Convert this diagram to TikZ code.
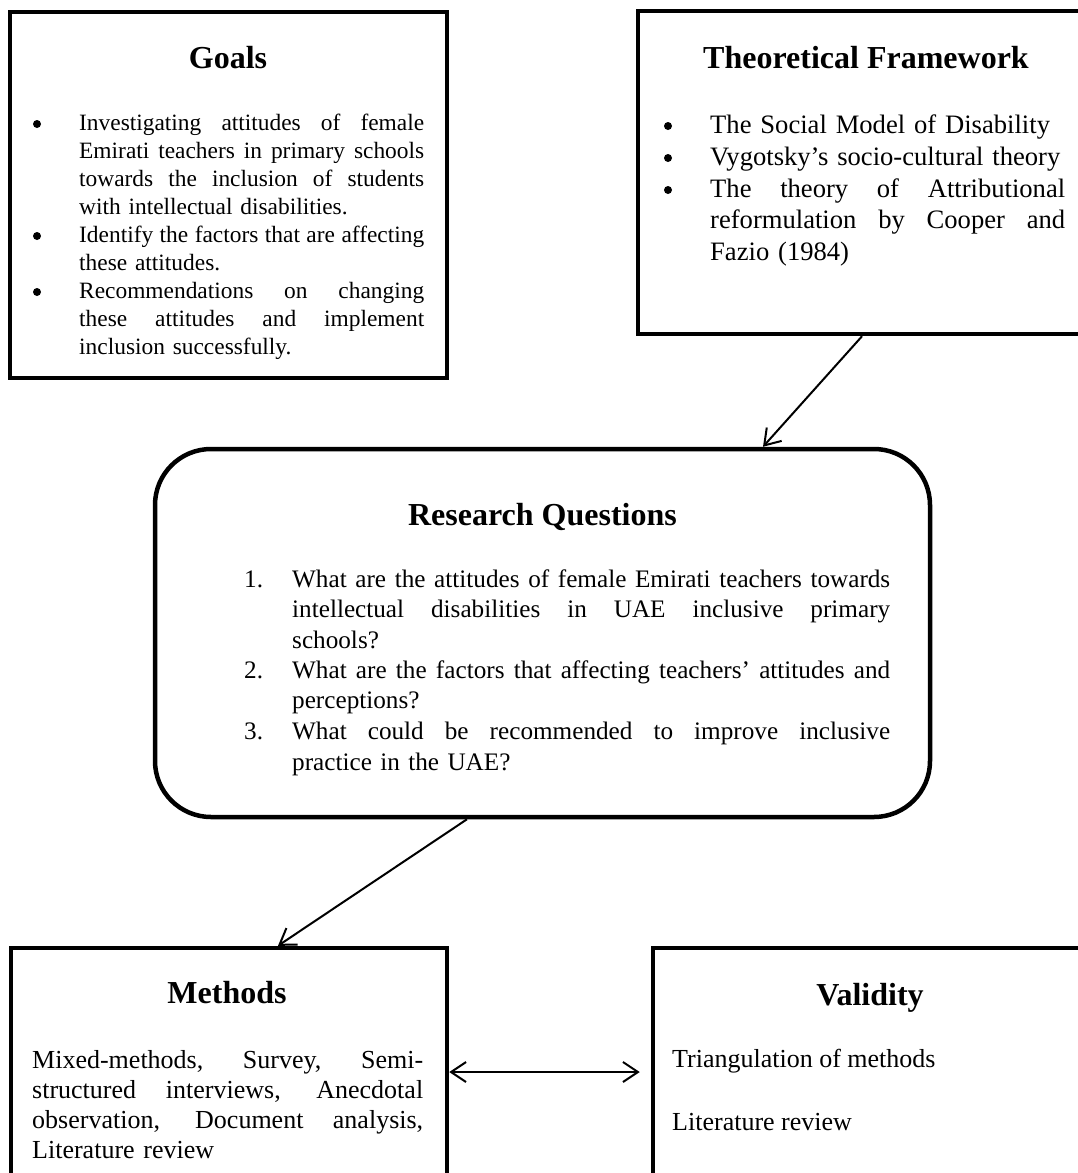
\documentclass[tikz,border=0pt]{standalone}
\usepackage{fontspec}
\setmainfont{Liberation Serif}
\usetikzlibrary{arrows.meta}
\newcommand\jl[2]{\leavevmode\hbox to #1{\spaceskip=0.25em plus 1fil minus 0.1em\relax #2}}
\begin{document}
\begin{tikzpicture}[x=1pt,y=-1pt,
  box/.style={draw, line width=4.5pt, inner sep=0pt},
  ttl/.style={font=\bfseries\fontsize{32}{38}\selectfont, anchor=base, inner sep=0pt},
  gtxt/.style={font=\fontsize{23.4}{28}\selectfont, anchor=base west, inner sep=0pt, text width=345pt, align=left},
  ttxt/.style={font=\fontsize{26.6}{31.7}\selectfont, anchor=base west, inner sep=0pt, text width=355pt, align=left},
  rtxt/.style={font=\fontsize{25.2}{30.5}\selectfont, anchor=base west, inner sep=0pt, text width=598pt, align=left},
  mtxt/.style={font=\fontsize{26}{30}\selectfont, anchor=base west, inner sep=0pt, text width=391pt, align=left},
  vtxt/.style={font=\fontsize{26}{30}\selectfont, anchor=base west, inner sep=0pt},
  num/.style={font=\fontsize{25.2}{30.5}\selectfont, anchor=base west, inner sep=0pt},
  bul/.style={circle, fill, inner sep=0pt, minimum size=8pt},
  arr/.style={line width=2pt, -{Straight Barb[length=15pt,width=20pt]}},
  darr/.style={line width=2pt, {Straight Barb[length=15pt,width=20pt]}-{Straight Barb[length=15pt,width=20pt]}}
]
\useasboundingbox (0,0) rectangle (1078,1173);
\clip (0,0) rectangle (1078,1173);
\fill[white] (0,0) rectangle (1078,1173);

% boxes
\node[box, minimum width=437pt, minimum height=366pt] (goals) at (228.5,195) {};
\node[box, minimum width=456pt, minimum height=323pt] (tf) at (866,172.5) {};
\node[box, rounded corners=56pt, minimum width=775pt, minimum height=368pt] (rq) at (542.5,633) {};
\node[box, minimum width=436pt, minimum height=252pt] (methods) at (229,1074) {};
\node[box, minimum width=434pt, minimum height=252pt] (validity) at (870,1074) {};

% Goals
\node[ttl] (goalsT) at (228,68) {Goals};
\node[bul] (gb1) at (37,124) {};
\node[bul] (gb2) at (37,236) {};
\node[bul] (gb3) at (37,292) {};
\node[gtxt] (g1) at (79,130) {\jl{345pt}{Investigating attitudes of female}\\\jl{345pt}{Emirati teachers in primary schools}\\\jl{345pt}{towards the inclusion of students}\\with intellectual disabilities.};
\node[gtxt] (g2) at (79,242) {\jl{345pt}{Identify the factors that are affecting}\\these attitudes.};
\node[gtxt] (g3) at (79,298) {\jl{345pt}{Recommendations on changing}\\\jl{345pt}{these attitudes and implement}\\inclusion successfully.};

% Theoretical Framework
\node[ttl] (tfT) at (866,68) {Theoretical Framework};
\node[bul] (tb1) at (668,126) {};
\node[bul] (tb2) at (668,158) {};
\node[bul] (tb3) at (668,190) {};
\node[ttxt] (t1) at (710,133) {The Social Model of Disability};
\node[ttxt] (t2) at (710,165) {Vygotsky’s socio-cultural theory};
\node[ttxt] (t3) at (710,197) {\jl{355pt}{The theory of Attributional}\\\jl{355pt}{reformulation by Cooper and}\\Fazio (1984)};

% Research Questions
\node[ttl] (rqT) at (542.5,525) {Research Questions};
\node[num] (n1) at (244,587) {1.};
\node[num] (n2) at (244,678) {2.};
\node[num] (n3) at (244,739.5) {3.};
\node[rtxt] (r1) at (292,587) {\jl{598pt}{What are the attitudes of female Emirati teachers towards}\\\jl{598pt}{intellectual disabilities in UAE inclusive primary}\\schools?};
\node[rtxt] (r2) at (292,678) {\jl{598pt}{What are the factors that affecting teachers’ attitudes and}\\perceptions?};
\node[rtxt] (r3) at (292,739.5) {\jl{598pt}{What could be recommended to improve inclusive}\\practice in the UAE?};

% Methods
\node[ttl] (mT) at (227,1003) {Methods};
\node[mtxt] (m1) at (32,1068) {\jl{391pt}{Mixed-methods, Survey, Semi-}\\\jl{391pt}{structured interviews, Anecdotal}\\\jl{391pt}{observation, Document analysis,}\\Literature review};

% Validity
\node[ttl] (vT) at (870,1005) {Validity};
\node[vtxt] (v1) at (672,1067) {Triangulation of methods};
\node[vtxt] (v2) at (672,1130) {Literature review};

% connectors
\draw[arr] (tf.south -| 862,0) -- (rq.north -| 763,0);
\draw[arr] (rq.south -| 467,0) -- (methods.north -| 278,0);
\draw[darr, shorten >=11pt] (methods.east |- 0,1072) -- (validity.west |- 0,1072);
\end{tikzpicture}
\end{document}
